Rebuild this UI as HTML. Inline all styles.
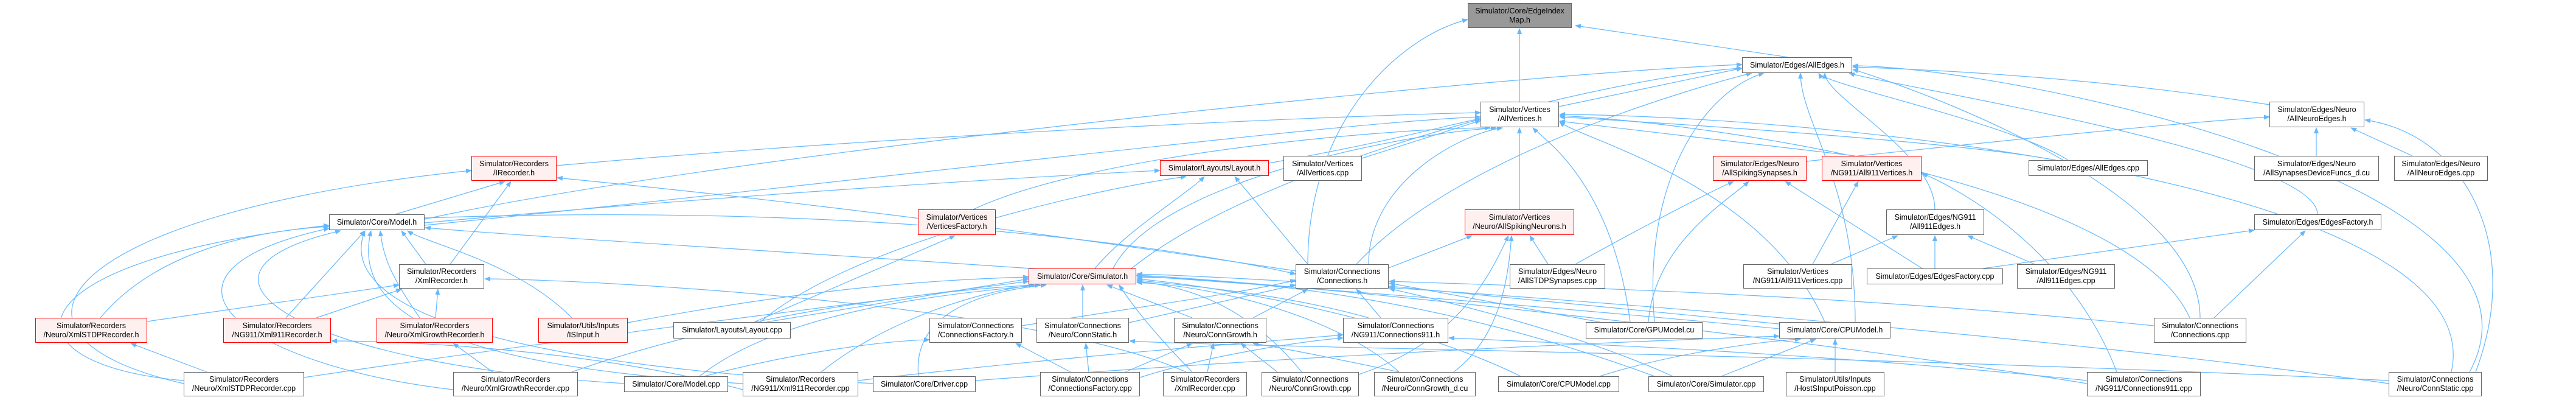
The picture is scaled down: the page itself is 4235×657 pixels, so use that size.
<!DOCTYPE html>
<html><head><meta charset="utf-8">
<style>
html,body{margin:0;padding:0;background:#fff;}
#w{position:relative;width:4235px;height:657px;overflow:hidden;background:#fff;}
svg{position:absolute;left:0;top:0;}
.n{position:absolute;box-sizing:border-box;border:1.5px solid #666;background:#fff;display:flex;align-items:center;justify-content:center;text-align:center;font-family:"Liberation Sans",sans-serif;font-size:12.5px;line-height:15px;color:#000;white-space:nowrap;}
.r{border-color:#f00;background:#fff0f0;}
.g{background:#999;}
</style></head><body><div id="w">
<svg width="4235" height="657" viewBox="0 0 4235 657">
<defs><marker id="a" markerWidth="10" markerHeight="8" refX="9" refY="4" orient="auto" markerUnits="userSpaceOnUse"><path d="M0,0 L10,4 L0,8 z" fill="#63b8ff"/></marker></defs>
<g fill="none" stroke="#63b8ff" stroke-width="1.2" marker-end="url(#a)">
<path d="M2498 167 L2498 47"/>
<path d="M2940 94 L2590 42"/>
<path d="M2150 434 C2150 200, 2300 60, 2413 32"/>
<path d="M2563 175 L2864 112"/>
<path d="M3731 172 C3400 120, 3100 112, 3046 110"/>
<path d="M3181 344 C3181 250, 3000 160, 3000 120"/>
<path d="M3810 352 C3810 250, 3100 140, 3040 120"/>
<path d="M3400 263 C3300 200, 3000 140, 2990 120"/>
<path d="M2720 529 C2700 300, 2800 150, 2900 120"/>
<path d="M3050 529 C3050 300, 2960 200, 2960 120"/>
<path d="M1860 441 C2100 250, 2700 120, 2864 112"/>
<path d="M698 360 C1200 250, 2500 120, 2864 106"/>
<path d="M2230 434 C2400 250, 2800 140, 2880 120"/>
<path d="M3617 522 C3617 300, 3100 130, 3046 114"/>
<path d="M4060 611 C4230 300, 3300 110, 3046 108"/>
<path d="M2970 265 C3300 230, 3600 200, 3731 192"/>
<path d="M3808 256 L3808 210"/>
<path d="M3966 256 L3865 210"/>
<path d="M4070 611 C4150 400, 4050 220, 3888 197"/>
<path d="M915 272 C1500 220, 2200 190, 2434 185"/>
<path d="M2086 268 C2300 230, 2400 200, 2434 195"/>
<path d="M2239 260 L2434 198"/>
<path d="M1600 344 C1800 250, 2300 210, 2450 210"/>
<path d="M2498 344 L2498 210"/>
<path d="M3050 256 L2564 199"/>
<path d="M698 370 C1400 300, 2200 200, 2434 192"/>
<path d="M1830 441 C1900 300, 2300 220, 2460 210"/>
<path d="M2250 434 C2250 300, 2400 220, 2470 210"/>
<path d="M2680 529 C2650 300, 2540 230, 2520 210"/>
<path d="M3000 529 C2900 300, 2600 230, 2564 200"/>
<path d="M3380 263 C3200 230, 2700 200, 2564 192"/>
<path d="M3600 522 C3500 300, 2800 200, 2564 190"/>
<path d="M4030 611 C4100 300, 3000 190, 2564 188"/>
<path d="M698 366 C1200 320, 1700 290, 1907 280"/>
<path d="M1250 529 C1400 400, 1800 310, 1950 290"/>
<path d="M2150 434 L2030 290"/>
<path d="M1800 441 C1850 380, 1950 320, 1980 290"/>
<path d="M650 352 L830 298"/>
<path d="M740 434 L840 298"/>
<path d="M302 630 C-50 550, 100 350, 775 280"/>
<path d="M2130 445 C1500 350, 1100 310, 916 292"/>
<path d="M700 434 L660 379"/>
<path d="M165 522 C250 420, 400 380, 541 372"/>
<path d="M470 522 L600 379"/>
<path d="M690 522 C640 450, 630 420, 625 379"/>
<path d="M940 522 C850 430, 700 400, 670 379"/>
<path d="M302 625 C0 600, 0 430, 541 370"/>
<path d="M745 640 C400 600, 200 450, 541 375"/>
<path d="M1030 630 C500 600, 250 450, 560 379"/>
<path d="M1440 630 C800 600, 550 500, 600 379"/>
<path d="M2925 540 C2000 450, 1000 400, 699 374"/>
<path d="M1221 630 C700 600, 580 500, 610 379"/>
<path d="M242 528 L656 468"/>
<path d="M520 522 L660 475"/>
<path d="M716 522 L720 475"/>
<path d="M1950 611 C1700 500, 1000 460, 797 458"/>
<path d="M340 611 L215 564"/>
<path d="M1221 640 C1000 580, 700 560, 545 560"/>
<path d="M810 611 L745 564"/>
<path d="M1260 529 L1691 458"/>
<path d="M1032 530 C1300 480, 1500 460, 1691 455"/>
<path d="M1780 522 L1780 468"/>
<path d="M1960 522 L1820 468"/>
<path d="M1150 618 C1300 500, 1600 480, 1710 468"/>
<path d="M1510 618 C1500 520, 1600 480, 1720 468"/>
<path d="M1960 611 C1900 550, 1860 500, 1840 468"/>
<path d="M2140 611 C2050 500, 1950 470, 1869 462"/>
<path d="M2250 522 C2100 480, 1950 470, 1869 460"/>
<path d="M2720 618 C2400 500, 2100 460, 1869 455"/>
<path d="M2500 618 C2300 520, 2000 470, 1869 458"/>
<path d="M940 611 C1200 520, 1500 480, 1700 468"/>
<path d="M1350 611 C1450 530, 1600 480, 1700 468"/>
<path d="M2300 611 C2200 520, 2000 470, 1869 464"/>
<path d="M3431 630 C3000 560, 2200 470, 1869 452"/>
<path d="M3927 630 C3300 540, 2200 460, 1869 450"/>
<path d="M500 620 C900 560, 1400 500, 1691 462"/>
<path d="M1240 529 L1570 387"/>
<path d="M1680 535 C1900 500, 2050 480, 2130 460"/>
<path d="M1856 530 L2130 468"/>
<path d="M2060 522 L2150 475"/>
<path d="M2270 522 L2230 475"/>
<path d="M2630 529 L2284 465"/>
<path d="M2925 532 L2284 470"/>
<path d="M3541 535 C3000 480, 2500 470, 2284 462"/>
<path d="M2750 618 C2600 550, 2400 500, 2284 474"/>
<path d="M698 358 C1500 330, 2000 420, 2130 450"/>
<path d="M2283 440 L2420 387"/>
<path d="M2545 434 L2515 387"/>
<path d="M2234 615 C2400 560, 2450 450, 2480 387"/>
<path d="M2390 611 C2470 550, 2480 450, 2485 387"/>
<path d="M2590 434 C2650 400, 2800 320, 2850 298"/>
<path d="M2710 529 C2720 400, 2840 330, 2875 298"/>
<path d="M3160 441 L2935 298"/>
<path d="M2980 434 L3055 298"/>
<path d="M3480 611 C3400 400, 3200 300, 3160 285"/>
<path d="M3010 434 L3120 387"/>
<path d="M3345 434 L3235 387"/>
<path d="M3181 441 L3181 387"/>
<path d="M3260 441 L3706 378"/>
<path d="M3640 522 L3790 379"/>
<path d="M1760 611 L1670 564"/>
<path d="M1150 620 C1300 580, 1450 560, 1528 558"/>
<path d="M3927 625 C3000 580, 2000 570, 1857 560"/>
<path d="M1790 611 L1785 564"/>
<path d="M2100 611 L2040 564"/>
<path d="M1985 611 L1995 564"/>
<path d="M1850 611 L1960 564"/>
<path d="M2300 611 C2200 590, 2100 570, 2060 564"/>
<path d="M3431 625 C3000 580, 2600 565, 2382 555"/>
<path d="M1411 625 C1800 580, 2100 560, 2208 550"/>
<path d="M1874 620 C2000 580, 2150 560, 2208 555"/>
<path d="M2630 618 C2750 580, 2900 560, 2960 557"/>
<path d="M2830 618 L2985 557"/>
<path d="M3017 611 L3017 557"/>
<path d="M1604 625 C2200 580, 2700 560, 2925 552"/>
</g>
</svg>
<div class="n g" style="left:2413px;top:5px;width:171px;height:41px">Simulator/Core/EdgeIndex<br>Map.h</div>
<div class="n" style="left:2864px;top:94px;width:181px;height:26px">Simulator/Edges/AllEdges.h</div>
<div class="n" style="left:2434px;top:167px;width:129px;height:42px">Simulator/Vertices<br>/AllVertices.h</div>
<div class="n" style="left:3731px;top:167px;width:156px;height:42px">Simulator/Edges/Neuro<br>/AllNeuroEdges.h</div>
<div class="n r" style="left:775px;top:256px;width:140px;height:41px">Simulator/Recorders<br>/IRecorder.h</div>
<div class="n r" style="left:1907px;top:263px;width:179px;height:26px">Simulator/Layouts/Layout.h</div>
<div class="n" style="left:2110px;top:256px;width:129px;height:41px">Simulator/Vertices<br>/AllVertices.cpp</div>
<div class="n r" style="left:2816px;top:256px;width:154px;height:41px">Simulator/Edges/Neuro<br>/AllSpikingSynapses.h</div>
<div class="n r" style="left:2995px;top:256px;width:164px;height:41px">Simulator/Vertices<br>/NG911/All911Vertices.h</div>
<div class="n" style="left:3335px;top:263px;width:196px;height:26px">Simulator/Edges/AllEdges.cpp</div>
<div class="n" style="left:3706px;top:256px;width:205px;height:41px">Simulator/Edges/Neuro<br>/AllSynapsesDeviceFuncs_d.cu</div>
<div class="n" style="left:3936px;top:256px;width:154px;height:41px">Simulator/Edges/Neuro<br>/AllNeuroEdges.cpp</div>
<div class="n" style="left:541px;top:352px;width:157px;height:26px">Simulator/Core/Model.h</div>
<div class="n r" style="left:1509px;top:344px;width:128px;height:42px">Simulator/Vertices<br>/VerticesFactory.h</div>
<div class="n r" style="left:2408px;top:344px;width:180px;height:42px">Simulator/Vertices<br>/Neuro/AllSpikingNeurons.h</div>
<div class="n" style="left:3101px;top:344px;width:161px;height:42px">Simulator/Edges/NG911<br>/All911Edges.h</div>
<div class="n" style="left:3706px;top:352px;width:209px;height:26px">Simulator/Edges/EdgesFactory.h</div>
<div class="n" style="left:656px;top:434px;width:140px;height:40px">Simulator/Recorders<br>/XmlRecorder.h</div>
<div class="n r" style="left:1691px;top:441px;width:177px;height:26px">Simulator/Core/Simulator.h</div>
<div class="n" style="left:2130px;top:434px;width:153px;height:40px">Simulator/Connections<br>/Connections.h</div>
<div class="n" style="left:2482px;top:434px;width:157px;height:40px">Simulator/Edges/Neuro<br>/AllSTDPSynapses.cpp</div>
<div class="n" style="left:2866px;top:434px;width:179px;height:40px">Simulator/Vertices<br>/NG911/All911Vertices.cpp</div>
<div class="n" style="left:3069px;top:441px;width:224px;height:26px">Simulator/Edges/EdgesFactory.cpp</div>
<div class="n" style="left:3316px;top:434px;width:161px;height:40px">Simulator/Edges/NG911<br>/All911Edges.cpp</div>
<div class="n r" style="left:58px;top:522px;width:184px;height:41px">Simulator/Recorders<br>/Neuro/XmlSTDPRecorder.h</div>
<div class="n r" style="left:367px;top:522px;width:177px;height:41px">Simulator/Recorders<br>/NG911/Xml911Recorder.h</div>
<div class="n r" style="left:619px;top:522px;width:191px;height:41px">Simulator/Recorders<br>/Neuro/XmlGrowthRecorder.h</div>
<div class="n r" style="left:885px;top:522px;width:147px;height:41px">Simulator/Utils/Inputs<br>/ISInput.h</div>
<div class="n" style="left:1107px;top:529px;width:193px;height:27px">Simulator/Layouts/Layout.cpp</div>
<div class="n" style="left:1528px;top:522px;width:152px;height:41px">Simulator/Connections<br>/ConnectionsFactory.h</div>
<div class="n" style="left:1704px;top:522px;width:152px;height:41px">Simulator/Connections<br>/Neuro/ConnStatic.h</div>
<div class="n" style="left:1930px;top:522px;width:152px;height:41px">Simulator/Connections<br>/Neuro/ConnGrowth.h</div>
<div class="n" style="left:2208px;top:522px;width:173px;height:41px">Simulator/Connections<br>/NG911/Connections911.h</div>
<div class="n" style="left:2607px;top:529px;width:192px;height:27px">Simulator/Core/GPUModel.cu</div>
<div class="n" style="left:2925px;top:529px;width:183px;height:27px">Simulator/Core/CPUModel.h</div>
<div class="n" style="left:3541px;top:522px;width:152px;height:41px">Simulator/Connections<br>/Connections.cpp</div>
<div class="n" style="left:302px;top:611px;width:198px;height:40px">Simulator/Recorders<br>/Neuro/XmlSTDPRecorder.cpp</div>
<div class="n" style="left:745px;top:611px;width:205px;height:40px">Simulator/Recorders<br>/Neuro/XmlGrowthRecorder.cpp</div>
<div class="n" style="left:1026px;top:618px;width:171px;height:26px">Simulator/Core/Model.cpp</div>
<div class="n" style="left:1221px;top:611px;width:190px;height:40px">Simulator/Recorders<br>/NG911/Xml911Recorder.cpp</div>
<div class="n" style="left:1435px;top:618px;width:169px;height:26px">Simulator/Core/Driver.cpp</div>
<div class="n" style="left:1710px;top:611px;width:164px;height:40px">Simulator/Connections<br>/ConnectionsFactory.cpp</div>
<div class="n" style="left:1912px;top:611px;width:138px;height:40px">Simulator/Recorders<br>/XmlRecorder.cpp</div>
<div class="n" style="left:2074px;top:611px;width:160px;height:40px">Simulator/Connections<br>/Neuro/ConnGrowth.cpp</div>
<div class="n" style="left:2259px;top:611px;width:167px;height:40px">Simulator/Connections<br>/Neuro/ConnGrowth_d.cu</div>
<div class="n" style="left:2463px;top:618px;width:199px;height:26px">Simulator/Core/CPUModel.cpp</div>
<div class="n" style="left:2710px;top:618px;width:190px;height:26px">Simulator/Core/Simulator.cpp</div>
<div class="n" style="left:2936px;top:611px;width:162px;height:40px">Simulator/Utils/Inputs<br>/HostSInputPoisson.cpp</div>
<div class="n" style="left:3431px;top:611px;width:187px;height:40px">Simulator/Connections<br>/NG911/Connections911.cpp</div>
<div class="n" style="left:3927px;top:611px;width:153px;height:40px">Simulator/Connections<br>/Neuro/ConnStatic.cpp</div>
</div></body></html>
